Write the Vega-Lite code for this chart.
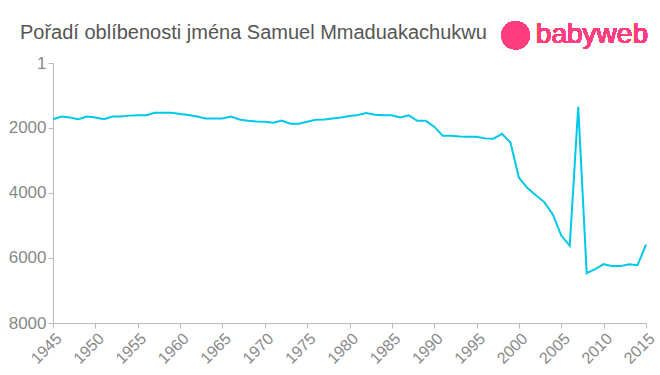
{
  "$schema": "https://vega.github.io/schema/vega-lite/v6.json",
  "autosize": "none",
  "width": 593,
  "height": 260,
  "padding": {"left": 53, "top": 63, "right": 14, "bottom": 52},
  "background": "white",
  "config": {"view": {"stroke": null}, "font": "Liberation Sans"},
  "title": {
    "text": "Pořadí oblíbenosti jména Samuel Mmaduakachukwu",
    "anchor": "start",
    "frame": "group",
    "dx": -33,
    "dy": 42,
    "offset": 20,
    "fontSize": 20,
    "fontWeight": "normal",
    "color": "#555555",
    "font": "Liberation Sans"
  },
  "data": {"values": [
    {"year": 1945, "rank": 1730}, {"year": 1946, "rank": 1650}, {"year": 1947, "rank": 1680},
    {"year": 1948, "rank": 1730}, {"year": 1949, "rank": 1650}, {"year": 1950, "rank": 1680},
    {"year": 1951, "rank": 1730}, {"year": 1952, "rank": 1650}, {"year": 1953, "rank": 1650},
    {"year": 1954, "rank": 1620}, {"year": 1955, "rank": 1610}, {"year": 1956, "rank": 1610},
    {"year": 1957, "rank": 1530}, {"year": 1958, "rank": 1530}, {"year": 1959, "rank": 1530},
    {"year": 1960, "rank": 1570}, {"year": 1961, "rank": 1600}, {"year": 1962, "rank": 1650},
    {"year": 1963, "rank": 1710}, {"year": 1964, "rank": 1710}, {"year": 1965, "rank": 1710},
    {"year": 1966, "rank": 1650}, {"year": 1967, "rank": 1740}, {"year": 1968, "rank": 1780},
    {"year": 1969, "rank": 1800}, {"year": 1970, "rank": 1810}, {"year": 1971, "rank": 1840},
    {"year": 1972, "rank": 1770}, {"year": 1973, "rank": 1870}, {"year": 1974, "rank": 1870},
    {"year": 1975, "rank": 1810}, {"year": 1976, "rank": 1750}, {"year": 1977, "rank": 1740},
    {"year": 1978, "rank": 1710}, {"year": 1979, "rank": 1680}, {"year": 1980, "rank": 1630},
    {"year": 1981, "rank": 1600}, {"year": 1982, "rank": 1540}, {"year": 1983, "rank": 1590},
    {"year": 1984, "rank": 1610}, {"year": 1985, "rank": 1610}, {"year": 1986, "rank": 1680},
    {"year": 1987, "rank": 1610}, {"year": 1988, "rank": 1780}, {"year": 1989, "rank": 1780},
    {"year": 1990, "rank": 1960}, {"year": 1991, "rank": 2240}, {"year": 1992, "rank": 2240},
    {"year": 1993, "rank": 2260}, {"year": 1994, "rank": 2270}, {"year": 1995, "rank": 2270},
    {"year": 1996, "rank": 2320}, {"year": 1997, "rank": 2330}, {"year": 1998, "rank": 2180},
    {"year": 1999, "rank": 2450}, {"year": 2000, "rank": 3530}, {"year": 2001, "rank": 3850},
    {"year": 2002, "rank": 4070}, {"year": 2003, "rank": 4280}, {"year": 2004, "rank": 4660},
    {"year": 2005, "rank": 5310}, {"year": 2006, "rank": 5620}, {"year": 2007, "rank": 1350},
    {"year": 2008, "rank": 6470}, {"year": 2009, "rank": 6340}, {"year": 2010, "rank": 6190},
    {"year": 2011, "rank": 6250}, {"year": 2012, "rank": 6250}, {"year": 2013, "rank": 6190},
    {"year": 2014, "rank": 6220}, {"year": 2015, "rank": 5590}
  ]},
  "layer": [
    {
      "mark": {"type": "line", "color": "#00c8e8", "strokeWidth": 2, "clip": false},
      "encoding": {
        "x": {
          "field": "year", "type": "quantitative",
          "scale": {"domain": [1945, 2015], "nice": false, "zero": false},
          "axis": {
            "values": [1945, 1950, 1955, 1960, 1965, 1970, 1975, 1980, 1985, 1990, 1995, 2000, 2005, 2010, 2015],
            "format": "d", "labelAngle": -45, "title": null, "grid": false,
            "domainColor": "#bbbbbb", "tickColor": "#bbbbbb", "tickSize": 5,
            "labelColor": "#888888", "labelFontSize": 16, "labelFont": "Liberation Sans",
            "labelAlign": "right", "labelBaseline": "top", "labelPadding": 2, "labelOverlap": false, "labelFlush": false
          }
        },
        "y": {
          "field": "rank", "type": "quantitative",
          "scale": {"domain": [1, 8000], "reverse": true, "nice": false, "zero": false},
          "axis": {
            "values": [1, 2000, 4000, 6000, 8000],
            "format": "d",
            "title": null, "grid": false,
            "domainColor": "#bbbbbb", "tickColor": "#bbbbbb", "tickSize": 5,
            "labelColor": "#888888", "labelFontSize": 17, "labelFont": "Liberation Sans",
            "labelPadding": 2, "labelOverlap": false, "labelFlush": false
          }
        }
      }
    },
    {
      "mark": {"type": "point", "filled": true, "color": "#ff3d7f", "opacity": 1, "size": 800, "shape": "circle"},
      "encoding": {"x": {"datum": 1999.6}, "y": {"datum": -850}}
    },
    {
      "mark": {"type": "text", "text": "babyweb", "color": "#ff3d7f", "fontSize": 28, "font": "Liberation Sans", "align": "left", "baseline": "alphabetic"},
      "encoding": {"x": {"datum": 2002.0}, "y": {"datum": -600}}
    }
  ]
}
